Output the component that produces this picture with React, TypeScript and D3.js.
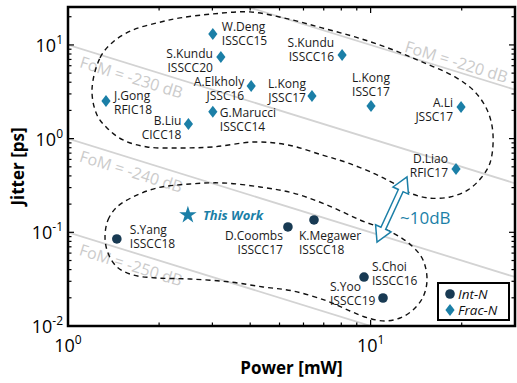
import React from 'react';
import * as d3 from 'd3';

// ---------- data ----------
const fracNames = ['W.Deng', 'S.Kundu', 'A.Elkholy', 'J.Gong', 'G.Marucci', 'B.Liu', 'S.Kundu', 'L.Kong', 'L.Kong', 'A.Li', 'D.Liao'];
const fracVenues = ['ISSCC15', 'ISSCC20', 'JSSC16', 'RFIC18', 'ISSCC14', 'CICC18', 'ISSCC16', 'JSSC17', 'ISSC17', 'JSSC17', 'RFIC17'];
const fracPower = [3.01, 3.2, 4.03, 1.335, 3.01, 2.5, 8.05, 6.4, 10.03, 19.9, 19.15];
const fracJitter = [13.1, 7.45, 3.65, 2.52, 1.93, 1.43, 7.82, 2.85, 2.23, 2.18, 0.474];

const intNames = ['S.Yang', 'D.Coombs', 'K.Megawer', 'S.Choi', 'S.Yoo'];
const intVenues = ['ISSCC18', 'ISSCC17', 'ISSCC18', 'ISSCC16', 'ISSCC19'];
const intPower = [1.45, 5.33, 6.5, 9.51, 10.99];
const intJitter = [0.0849, 0.114, 0.1355, 0.0333, 0.0199];

const thisWorkLabel = 'This Work';
const thisWorkPower = 2.49;
const thisWorkJitter = 0.153;

const fomLevels = [-220, -230, -240, -250];
const fomLabelPower = [18.8, 1.665, 1.665, 1.66];

const xMajorTicks = [1, 10];
const yMajorTicks = [0.01, 0.1, 1, 10];
const xDomain = [1, 30];
const yDomain = [0.01, 25.4];

// group outlines in (log10 P, log10 J)
const fracGroup = [
  [0.0793, 0.5196], [0.1058, 0.8612], [0.1487, 1.032], [0.2148, 1.16], [0.2941, 1.2349], [0.3701, 1.2882],
  [0.4792, 1.331], [0.6015, 1.3523], [0.727, 1.2776], [0.8394, 1.1815], [0.9485, 1.0854], [1.0575, 0.968],
  [1.1699, 0.8185], [1.2789, 0.6584], [1.345, 0.4982], [1.388, 0.2847], [1.4045, 0.0392], [1.3946, -0.2597],
  [1.3648, -0.4199], [1.3219, -0.548], [1.2624, -0.6227], [1.1897, -0.6334], [1.1302, -0.58], [1.074, -0.4733],
  [1.0145, -0.3772], [0.9253, -0.2597], [0.8394, -0.1743], [0.727, -0.0676], [0.618, -0.0356], [0.4792, -0.0889],
  [0.3701, -0.0996], [0.2611, -0.0889], [0.1818, -0.0142], [0.1289, 0.1139], [0.0958, 0.2527],
];
const intGroup = [
  [0.1223, -1.0497], [0.1322, -0.8683], [0.1619, -0.7295], [0.2148, -0.6227], [0.2941, -0.5266], [0.4032, -0.4839],
  [0.5122, -0.4733], [0.6345, -0.516], [0.7436, -0.58], [0.8559, -0.7081], [0.965, -0.8683], [1.074, -1.0071],
  [1.1368, -1.1458], [1.1732, -1.2953], [1.1864, -1.5088], [1.1732, -1.6903], [1.1401, -1.8291], [1.0972, -1.9145],
  [1.0476, -1.9465], [0.9914, -1.9145], [0.9319, -1.8398], [0.8559, -1.733], [0.7436, -1.6262], [0.6444, -1.5835],
  [0.5354, -1.5302], [0.4032, -1.4982], [0.2941, -1.4875], [0.2148, -1.4554], [0.1619, -1.37], [0.1322, -1.2206],
];
const arrowPower = [10.5, 13.19];
const arrowJitter = [0.0788, 0.39];
const arrowText = '~10dB';

// ---------- layout ----------
const W = 517, H = 383;
const M = { left: 68, right: 515, top: 7, bottom: 326 };
const TEAL = '#1b7fa7';
const NAVY = '#183a53';
const FONT = '"Open Sans", "Noto Sans", sans-serif';

const fracLabelLayout: [string, number, number][] = [
  ['start', 9, -7], ['end', -8, -3], ['end', -7, -4], ['start', 8, -5], ['start', 7, 1], ['end', -7, -3],
  ['end', -8, -12], ['end', -6, -12], ['middle', 0, -28], ['end', -8, -4], ['end', -8, -10],
];
const intLabelLayout: [string, number, number][] = [
  ['start', 13, -9], ['end', -5, 9], ['start', -15, 16], ['start', 8, -10], ['start', -53, -11],
];
const fomOffsets = [-9.5, 12, 12.5, 12.5];
const LINE_GAP = 13.5;

const diamond = 'M0,-6L4.6,0L0,6L-4.6,0Z';

function TwoLine({ x, y, anchor, a, b }: { x: number; y: number; anchor: string; a: string; b: string }) {
  // baseline offset of ~4.3px approximates central alignment for 12px Open Sans
  return (
    <text x={x} y={y + 4.3} textAnchor={anchor as any} fontSize={12} fill="#1a1a1a">
      <tspan x={x}>{a}</tspan>
      <tspan x={x} dy={LINE_GAP}>{b}</tspan>
    </text>
  );
}

export default function App() {
  const x = d3.scaleLog().domain(xDomain).range([M.left, M.right]);
  const y = d3.scaleLog().domain(yDomain).range([M.bottom, M.top]);

  const blobLine = d3
    .line<number[]>()
    .x((d) => x(Math.pow(10, d[0])))
    .y((d) => y(Math.pow(10, d[1])))
    .curve(d3.curveCatmullRomClosed.alpha(0.5));

  const xTicksAll = x.ticks();
  const yTicksAll = y.ticks();
  const isMajor = (v: number) => Math.abs(Math.log10(v) - Math.round(Math.log10(v))) < 1e-6;

  // arrow
  const ax0 = x(arrowPower[0]), ay0 = y(arrowJitter[0]);
  const ax1 = x(arrowPower[1]), ay1 = y(arrowJitter[1]);
  const L = Math.hypot(ax1 - ax0, ay1 - ay0);
  const ux = (ax1 - ax0) / L, uy = (ay1 - ay0) / L;
  const nx = -uy, ny = ux;
  const hl = 15, hw = 8.5, sw = 2.6;
  const P = (bx: number, by: number, a: number, b: number) => [bx + ux * a + nx * b, by + uy * a + ny * b];
  const arrowPts = [
    [ax1, ay1],
    P(ax1, ay1, -hl, hw),
    P(ax1, ay1, -hl, sw),
    P(ax0, ay0, hl, sw),
    P(ax0, ay0, hl, hw),
    [ax0, ay0],
    P(ax0, ay0, hl, -hw),
    P(ax0, ay0, hl, -sw),
    P(ax1, ay1, -hl, -sw),
    P(ax1, ay1, -hl, -hw),
  ];
  const arrowPath = 'M' + arrowPts.map((p) => p.join(',')).join('L') + 'Z';
  const amx = (ax0 + ax1) / 2, amy = (ay0 + ay1) / 2;

  const supLabel = (exp: number) => (
    <>
      10<tspan fontSize={12} dy={-8}>{exp}</tspan>
    </>
  );

  return (
    <svg width={W} height={H} style={{ position: 'absolute', left: 0, top: 0, background: '#fff' }} fontFamily={FONT}>
      <defs>
        <clipPath id="plotclip">
          <rect x={M.left} y={M.top} width={M.right - M.left} height={M.bottom - M.top} />
        </clipPath>
      </defs>
      <rect x={0} y={0} width={W} height={H} fill="#fff" />

      {/* FoM lines */}
      <g clipPath="url(#plotclip)">
        {fomLevels.map((f, i) => {
          const c = Math.pow(10, (f + 240) / 10);
          const x1 = x(xDomain[0]), y1 = y(c / xDomain[0]);
          const x2 = x(xDomain[1]), y2 = y(c / xDomain[1]);
          const ang = (Math.atan2(y2 - y1, x2 - x1) * 180) / Math.PI;
          const lp = fomLabelPower[i];
          const lx = x(lp), ly = y(c / lp);
          return (
            <g key={f}>
              <line x1={x1} y1={y1} x2={x2} y2={y2} stroke="#d3d3d3" strokeWidth={1.8} />
              <text
                transform={`translate(${lx},${ly}) rotate(${ang})`}
                y={fomOffsets[i]}
                textAnchor="middle"
                dominantBaseline="central"
                fontSize={16}
                fill="#cbcbcb"
              >
                {`FoM = ${f} dB`}
              </text>
            </g>
          );
        })}
      </g>

      {/* group outlines */}
      <path d={blobLine(fracGroup) || ''} fill="none" stroke="#111" strokeWidth={1.4} strokeDasharray="5,4" />
      <path d={blobLine(intGroup) || ''} fill="none" stroke="#111" strokeWidth={1.4} strokeDasharray="5,4" />

      {/* Frac-N */}
      {fracPower.map((p, i) => {
        const px = x(p), py = y(fracJitter[i]);
        const [anchor, dx, dy] = fracLabelLayout[i];
        return (
          <g key={'f' + i}>
            <path d={diamond} transform={`translate(${px},${py})`} fill={TEAL} />
            <TwoLine x={px + dx} y={py + dy} anchor={anchor} a={fracNames[i]} b={fracVenues[i]} />
          </g>
        );
      })}

      {/* Int-N */}
      {intPower.map((p, i) => {
        const px = x(p), py = y(intJitter[i]);
        const [anchor, dx, dy] = intLabelLayout[i];
        return (
          <g key={'i' + i}>
            <circle cx={px} cy={py} r={4.8} fill={NAVY} />
            <TwoLine x={px + dx} y={py + dy} anchor={anchor} a={intNames[i]} b={intVenues[i]} />
          </g>
        );
      })}

      {/* This work */}
      <path
        d={d3.symbol().type(d3.symbolStar).size(95)() || ''}
        transform={`translate(${x(thisWorkPower)},${y(thisWorkJitter)})`}
        fill={TEAL}
      />
      <text
        x={x(thisWorkPower) + 15}
        y={y(thisWorkJitter)}
        dominantBaseline="central"
        fontSize={13}
        fontWeight="bold"
        fontStyle="italic"
        fill={TEAL}
      >
        {thisWorkLabel}
      </text>

      {/* arrow */}
      <path d={arrowPath} fill="#fff" stroke={TEAL} strokeWidth={1.5} strokeLinejoin="miter" />
      <text x={amx + 8} y={amy + 8} dominantBaseline="central" fontSize={17} fill={TEAL}>
        {arrowText}
      </text>

      {/* ticks */}
      <g stroke="#000" strokeWidth={1.2}>
        {xTicksAll.map((t, i) => {
          const len = isMajor(t) ? 6 : 3.5;
          const px = x(t);
          return (
            <g key={'xt' + i}>
              <line x1={px} x2={px} y1={M.bottom} y2={M.bottom - len} />
              <line x1={px} x2={px} y1={M.top} y2={M.top + len} />
            </g>
          );
        })}
        {yTicksAll.map((t, i) => {
          const len = isMajor(t) ? 6 : 3.5;
          const py = y(t);
          return (
            <g key={'yt' + i}>
              <line x1={M.left} x2={M.left + len} y1={py} y2={py} />
              <line x1={M.right} x2={M.right - len} y1={py} y2={py} />
            </g>
          );
        })}
      </g>

      {/* frame */}
      <rect x={M.left} y={M.top} width={M.right - M.left} height={M.bottom - M.top} fill="none" stroke="#000" strokeWidth={2.5} />

      {/* tick labels */}
      {xMajorTicks.map((t) => (
        <text key={'xl' + t} x={x(t)} y={M.bottom + 26} textAnchor="middle" fontSize={18} fill="#000">
          {supLabel(Math.round(Math.log10(t)))}
        </text>
      ))}
      {yMajorTicks.map((t) => (
        <text key={'yl' + t} x={M.left - 5} y={y(t) + 7} textAnchor="end" fontSize={18} fill="#000">
          {supLabel(Math.round(Math.log10(t)))}
        </text>
      ))}

      {/* axis titles */}
      <text x={(M.left + M.right) / 2} y={374} textAnchor="middle" fontSize={17} fontWeight="bold" fill="#000">
        Power [mW]
      </text>
      <text
        transform={`translate(24,${(M.top + M.bottom) / 2}) rotate(-90)`}
        textAnchor="middle"
        fontSize={17}
        fontWeight="bold"
        fill="#000"
      >
        Jitter [ps]
      </text>

      {/* legend */}
      <g>
        <rect x={438} y={283} width={71} height={37} fill="#fff" stroke="#000" strokeWidth={2} />
        <circle cx={450} cy={294} r={4.8} fill={NAVY} />
        <text x={458} y={294} dominantBaseline="central" fontSize={13.5} fontStyle="italic" fill="#111">
          Int-N
        </text>
        <path d={diamond} transform="translate(450,310)" fill={TEAL} />
        <text x={458} y={310} dominantBaseline="central" fontSize={13.5} fontStyle="italic" fill="#111">
          Frac-N
        </text>
      </g>
    </svg>
  );
}
